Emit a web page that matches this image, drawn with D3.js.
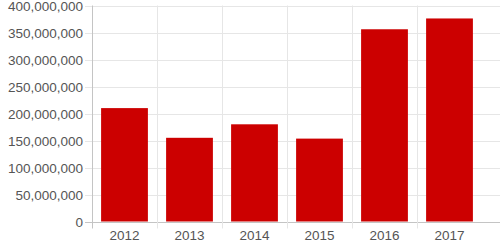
<!DOCTYPE html>
<html>
<head>
<meta charset="utf-8">
<script src="https://cdn.jsdelivr.net/npm/d3@7"></script>
<style>
  body { margin: 0; background: #fff; }
  svg text { font-family: "Liberation Sans", Arial, sans-serif; font-size: 13.5px; fill: #555; }
</style>
</head>
<body>
<svg id="chart" width="500" height="250"></svg>
<script>
(function() {

  var years = ['2012', '2013', '2014', '2015', '2016', '2017'];
  var values = [210000000, 155000000, 180000000, 153500000, 356000000, 376000000];
  var yTicks = [0, 50000000, 100000000, 150000000, 200000000, 250000000, 300000000, 350000000, 400000000];

  var left = 92, right = 482, top = 5.5, bottom = 221.5;
  var gridColor = '#e6e6e6';
  var axisColor = '#c4c4c4';

  var svg = d3.select('#chart');

  // categories: full slots for grid lines, inner band for bars
  var xSlot = d3.scaleBand().domain(years).range([left, right]).padding(0);
  var x = d3.scaleBand().domain(years).range([left, right])
    .paddingInner(0.28).paddingOuter(0.14);
  var y = d3.scaleLinear().domain([0, 400000000]).range([bottom, top]);

  // horizontal grid + y tick marks
  var yAxis = svg.append('g').attr('transform', 'translate(' + left + ',0)')
    .call(d3.axisLeft(y).tickValues(yTicks).tickFormat(d3.format(',')).tickSize(0).tickPadding(9));
  yAxis.select('.domain').remove();
  yAxis.selectAll('.tick line').remove();
  yAxis.selectAll('.tick').append('line')
    .attr('x1', -7).attr('x2', 500 - left)
    .attr('y1', 0.5).attr('y2', 0.5)
    .attr('stroke', function(d) { return d === 0 ? axisColor : gridColor; });
  yAxis.selectAll('.tick text').attr('dy', '0.36em').style('fill', '#555');

  // vertical grid lines at category boundaries
  var bounds = years.map(function(d) { return xSlot(d); }).slice(1);
  svg.append('g').selectAll('line')
    .data(bounds)
    .enter().append('line')
    .attr('x1', function(d) { return Math.round(d) + 0.5; })
    .attr('x2', function(d) { return Math.round(d) + 0.5; })
    .attr('y1', top).attr('y2', bottom + 7)
    .attr('stroke', gridColor);

  // y axis line
  svg.append('line')
    .attr('x1', left + 0.5).attr('x2', left + 0.5)
    .attr('y1', top).attr('y2', bottom + 7)
    .attr('stroke', axisColor);

  // bars
  svg.append('g').selectAll('rect')
    .data(values)
    .enter().append('rect')
    .attr('x', function(d, i) { return x(years[i]); })
    .attr('width', x.bandwidth())
    .attr('y', function(d) { return y(d); })
    .attr('height', function(d) { return y(0) - y(d); })
    .attr('fill', '#cc0000');

  // x labels
  var xAxis = svg.append('g').attr('transform', 'translate(0,' + bottom + ')')
    .call(d3.axisBottom(xSlot).tickSize(0).tickPadding(9));
  xAxis.select('.domain').remove();
  xAxis.selectAll('.tick text').attr('dy', '0.71em').style('fill', '#555');

})();
</script>
</body>
</html>
